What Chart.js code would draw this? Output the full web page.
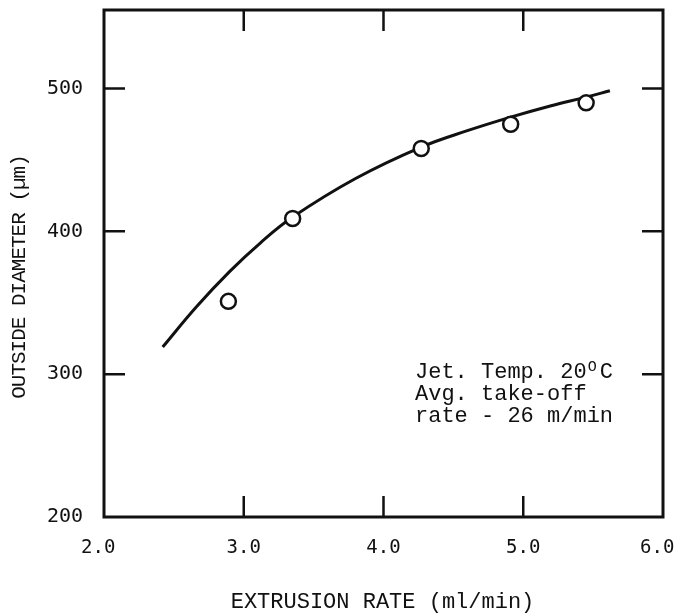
<!DOCTYPE html>
<html>
<head>
<meta charset="utf-8">
<style>
  html, body { margin: 0; padding: 0; background: #fff; }
  canvas { display: block; }
</style>
<script src="https://cdn.jsdelivr.net/npm/chart.js@4.4.4/dist/chart.umd.min.js"></script>
</head>
<body>
<canvas id="chart" width="674" height="615"></canvas>
<script>
/* ── Data ─────────────────────────────────────────────────────────── */
const rateMeasured     = [2.89, 3.35, 4.27, 4.91, 5.45];
const diameterMeasured = [351, 409, 458, 475, 490];

// fitted curve
const rateCurve     = [2.42, 2.66, 2.90, 3.12, 3.35, 3.80, 4.27, 4.60, 4.91, 5.20, 5.45, 5.62];
const diameterCurve = [319, 347, 372, 392, 410, 437, 459, 470.5, 480, 488, 494, 498.5];

const xTicks = [2, 3, 4, 5, 6];
const yTicks = [200, 300, 400, 500];
const xInnerTicks = [3, 4, 5];
const yInnerTicks = [300, 400, 500];

const xTitle = "EXTRUSION RATE (ml/min)";
const yTitle = "OUTSIDE DIAMETER (\u00b5m)";
const noteLines = ["Jet. Temp. 20", "Avg. take-off", "rate - 26 m/min"];

const INK = "#111";
const TICK_FONT = "DejaVu Sans Mono";
const TYPE_FONT = "Liberation Mono";

/* ── Frame, inner ticks, titles, note ─────────────────────────────── */
const framePlugin = {
  id: "frame",
  afterDraw(chart) {
    const { ctx, chartArea: a, scales: { x, y } } = chart;
    ctx.save();
    ctx.strokeStyle = INK;
    ctx.lineWidth = 3;
    ctx.strokeRect(a.left, a.top, a.right - a.left, a.bottom - a.top);

    ctx.lineWidth = 2.5;
    ctx.beginPath();
    xInnerTicks.forEach(v => {
      const px = x.getPixelForValue(v);
      ctx.moveTo(px, a.bottom); ctx.lineTo(px, a.bottom - 21);
      ctx.moveTo(px, a.top);    ctx.lineTo(px, a.top + 21);
    });
    yInnerTicks.forEach(v => {
      const py = y.getPixelForValue(v);
      ctx.moveTo(a.left, py);  ctx.lineTo(a.left + 21, py);
      ctx.moveTo(a.right, py); ctx.lineTo(a.right - 21, py);
    });
    ctx.stroke();

    ctx.fillStyle = INK;
    // x title
    ctx.font = `22px "${TYPE_FONT}"`;
    ctx.textAlign = "center";
    ctx.textBaseline = "alphabetic";
    ctx.fillText(xTitle, (a.left + a.right) / 2 - 1, 608);

    // y title, rotated
    ctx.save();
    ctx.translate(25, 277);
    ctx.rotate(-Math.PI / 2);
    ctx.font = `21px "${TYPE_FONT}"`;
    ctx.letterSpacing = "-1px";
    ctx.textAlign = "center";
    ctx.fillText(yTitle, 0, 0);
    ctx.restore();

    // note
    const nx = a.left + 311;
    const baselines = [378, 399.5, 421.5];
    ctx.textAlign = "left";
    ctx.font = `22px "${TYPE_FONT}"`;
    noteLines.forEach((t, i) => ctx.fillText(t, nx, baselines[i]));
    const w1 = ctx.measureText(noteLines[0]).width;
    ctx.font = `15px "${TYPE_FONT}"`;
    ctx.fillText("O", nx + w1 + 1, 371);
    ctx.font = `22px "${TYPE_FONT}"`;
    ctx.fillText("C", nx + w1 + 13, baselines[0]);
    ctx.restore();
  }
};

/* ── Chart ────────────────────────────────────────────────────────── */
new Chart(document.getElementById("chart"), {
  type: "scatter",
  data: {
    datasets: [
      {
        type: "scatter",
        data: rateMeasured.map((r, i) => ({ x: r, y: diameterMeasured[i] })),
        pointRadius: 7.5,
        pointBorderWidth: 2.5,
        borderColor: INK,
        backgroundColor: "#fff"
      },
      {
        type: "line",
        data: rateCurve.map((r, i) => ({ x: r, y: diameterCurve[i] })),
        borderColor: INK,
        borderWidth: 3,
        pointRadius: 0,
        tension: 0.4,
        fill: false
      }
    ]
  },
  options: {
    responsive: false,
    animation: false,
    devicePixelRatio: 1,
    layout: { padding: { top: 6, right: 11, left: 0, bottom: 0 } },
    plugins: { legend: { display: false }, tooltip: { enabled: false } },
    scales: {
      x: {
        type: "linear", min: 2, max: 6,
        afterBuildTicks: s => { s.ticks = xTicks.map(v => ({ value: v })); },
        afterFit: s => { s.height = 98; s.paddingLeft = 0; s.paddingRight = 0; },
        ticks: {
          autoSkip: false, maxRotation: 0, padding: 20, color: INK,
          font: { family: TICK_FONT, size: 19 },
          callback: v => (v === 2 || v === 6) ? v.toFixed(1) + " " : v.toFixed(1)
        },
        grid: { display: false, drawTicks: false },
        border: { display: false }
      },
      y: {
        type: "linear", min: 200, max: 555,
        afterBuildTicks: s => { s.ticks = yTicks.map(v => ({ value: v })); },
        afterFit: s => { s.width = 104; s.paddingTop = 0; s.paddingBottom = 0; },
        ticks: {
          autoSkip: false, padding: 21, color: INK,
          font: { family: TICK_FONT, size: 20 },
          callback: v => String(v)
        },
        grid: { display: false, drawTicks: false },
        border: { display: false }
      }
    }
  },
  plugins: [framePlugin]
});
</script>
</body>
</html>
